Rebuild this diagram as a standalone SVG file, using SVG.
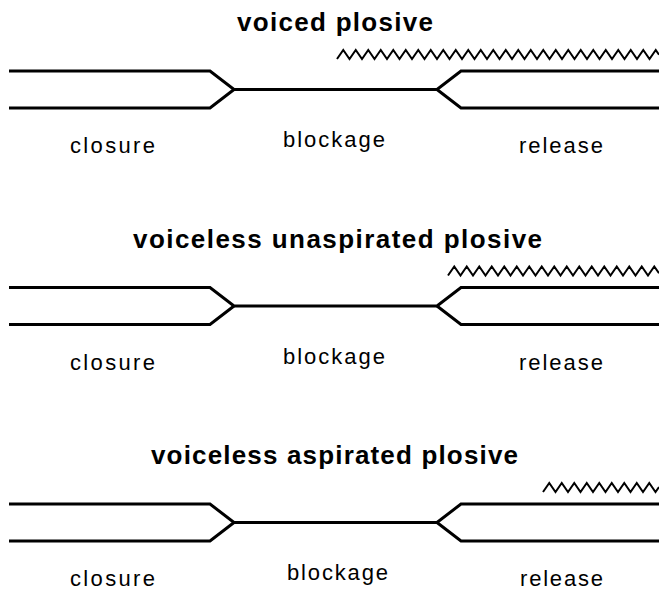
<svg xmlns="http://www.w3.org/2000/svg" width="659" height="590" viewBox="0 0 659 590">
<style>
  .bg { fill: #ffffff; }
  .tract { fill: none; stroke: #000; stroke-width: 3; stroke-linejoin: miter; }
  .voice { fill: none; stroke: #000; stroke-width: 2; stroke-linejoin: miter; }
  .title { font-family: "Liberation Sans", Arial, sans-serif; font-weight: bold; font-size: 26px; fill: #000; }
  .label { font-family: "Liberation Sans", Arial, sans-serif; font-size: 22px; fill: #000; }
</style>
<defs>
  <g id="tract-shape">
    <path class="tract" d="M9,71 H210 L234,89.5 H437 L461,71 H659"/>
    <path class="tract" d="M9,108 H210 L234,89.5 M437,89.5 L461,108 H659"/>
  </g>
</defs>
<rect class="bg" x="0" y="0" width="659" height="590"/>

<g id="voiced-plosive">
  <text class="title" x="237" y="30.5" textLength="196" lengthAdjust="spacing">voiced plosive</text>
  <g id="connectors-1">
    <use href="#tract-shape"/>
    <polyline class="voice" points="337,59 343.25,50 349.5,59 355.75,50 362,59 368.25,50 374.5,59 380.75,50 387,59 393.25,50 399.5,59 405.75,50 412,59 418.25,50 424.5,59 430.75,50 437,59 443.25,50 449.5,59 455.75,50 462,59 468.25,50 474.5,59 480.75,50 487,59 493.25,50 499.5,59 505.75,50 512,59 518.25,50 524.5,59 530.75,50 537,59 543.25,50 549.5,59 555.75,50 562,59 568.25,50 574.5,59 580.75,50 587,59 593.25,50 599.5,59 605.75,50 612,59 618.25,50 624.5,59 630.75,50 637,59 643.25,50 649.5,59 655.75,50 659,54.7"/>
  </g>
  <text class="label" x="70" y="153" textLength="85" lengthAdjust="spacing">closure</text>
  <text class="label" x="283" y="147" textLength="102" lengthAdjust="spacing">blockage</text>
  <text class="label" x="519" y="153" textLength="84" lengthAdjust="spacing">release</text>
</g>

<g id="voiceless-unaspirated-plosive" transform="translate(0,216.5)">
  <text class="title" x="133" y="31" textLength="409" lengthAdjust="spacing">voiceless unaspirated plosive</text>
  <g id="connectors-2">
    <use href="#tract-shape"/>
    <polyline class="voice" points="448,59 454.25,50 460.5,59 466.75,50 473,59 479.25,50 485.5,59 491.75,50 498,59 504.25,50 510.5,59 516.75,50 523,59 529.25,50 535.5,59 541.75,50 548,59 554.25,50 560.5,59 566.75,50 573,59 579.25,50 585.5,59 591.75,50 598,59 604.25,50 610.5,59 616.75,50 623,59 629.25,50 635.5,59 641.75,50 648,59 654.25,50 659,56.8"/>
  </g>
  <text class="label" x="70" y="153" textLength="85" lengthAdjust="spacing">closure</text>
  <text class="label" x="283" y="147" textLength="102" lengthAdjust="spacing">blockage</text>
  <text class="label" x="519" y="153" textLength="84" lengthAdjust="spacing">release</text>
</g>

<g id="voiceless-aspirated-plosive" transform="translate(0,433)">
  <text class="title" x="151" y="30.5" textLength="367" lengthAdjust="spacing">voiceless aspirated plosive</text>
  <g id="connectors-3">
    <use href="#tract-shape"/>
    <polyline class="voice" points="543,59 549.25,50 555.5,59 561.75,50 568,59 574.25,50 580.5,59 586.75,50 593,59 599.25,50 605.5,59 611.75,50 618,59 624.25,50 630.5,59 636.75,50 643,59 649.25,50 655.5,59 659,54"/>
  </g>
  <text class="label" x="70" y="153" textLength="85" lengthAdjust="spacing">closure</text>
  <text class="label" x="287" y="147" textLength="101" lengthAdjust="spacing">blockage</text>
  <text class="label" x="520" y="153" textLength="83" lengthAdjust="spacing">release</text>
</g>
</svg>
